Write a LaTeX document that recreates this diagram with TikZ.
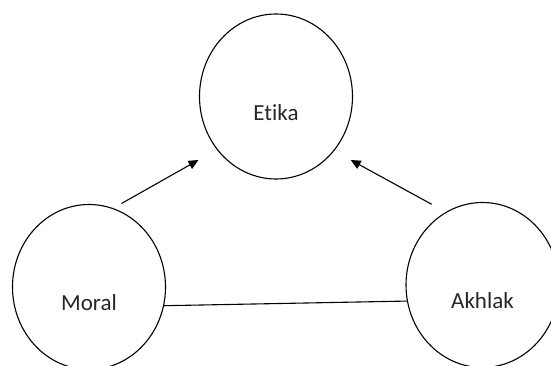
\documentclass[tikz,border=0pt]{standalone}
\usepackage{fontspec}
\setmainfont[Ligatures=NoCommon]{Carlito}
\usetikzlibrary{shapes.geometric,arrows.meta}
\begin{document}
\begin{tikzpicture}[x=1pt,y=-1pt,
  bubble/.style={ellipse,draw,line width=1.1pt,minimum width=153pt,minimum height=165pt,inner sep=0pt},
  word/.style={font=\fontsize{23pt}{26pt}\selectfont,text=black!85},
  conn/.style={line width=1.1pt},
  arr/.style={conn,-{Triangle[length=10pt,width=9pt]}}]
\clip (0,0) rectangle (551,366);
\useasboundingbox (0,0) rectangle (551,366);
\node[bubble,label={[word,yshift=-16pt]center:Etika}] (etika) at (276,96.5) {};
\node[bubble,label={[word,yshift=-16pt]center:Moral}] (moral) at (89,287) {};
\node[bubble,label={[word,yshift=-16pt]center:Akhlak}] (akhlak) at (482.5,285) {};
\coordinate (m1) at (121.5,203.5);
\coordinate (m2) at (198.5,160);
\coordinate (a1) at (431.7,204.3);
\coordinate (a2) at (350.7,160);
\draw[arr] (m1) -- (m2);
\draw[arr] (a1) -- (a2);
\draw[conn] (moral.-14) -- (akhlak.192);
\end{tikzpicture}
\end{document}
